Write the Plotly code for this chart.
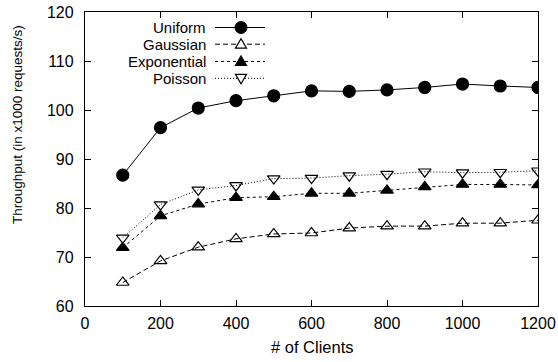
import plotly.graph_objects as go

clients = [100, 200, 300, 400, 500, 600, 700, 800, 900, 1000, 1100, 1200]
uniform = [86.7, 96.4, 100.4, 101.9, 102.9, 103.9, 103.8, 104.1, 104.6, 105.3, 104.9, 104.6]
gaussian = [64.8, 69.2, 72.0, 73.7, 74.7, 74.9, 75.9, 76.3, 76.3, 76.9, 76.9, 77.5]
exponential = [71.9, 78.4, 80.8, 82.1, 82.3, 83.0, 83.0, 83.6, 84.3, 84.8, 84.8, 84.7]
poisson = [73.9, 80.7, 83.7, 84.6, 86.0, 86.1, 86.6, 86.9, 87.4, 87.2, 87.3, 87.6]

series_names = ["Uniform", "Gaussian", "Exponential", "Poisson"]
series_vals = [uniform, gaussian, exponential, poisson]
dashes = ["solid", "5px,3px", "3px,3px", "1px,2px"]
symbols = ["circle", "triangle-up-open", "triangle-up", "triangle-down-open"]
msizes = [12, 11, 11, 11]

W, H = 558, 362
L, R, T, B = 85, 20, 12, 56
PW, PH = W - L - R, H - T - B

fig = go.Figure()
for name, vals, d, s, ms in zip(series_names, series_vals, dashes, symbols, msizes):
    fig.add_trace(go.Scatter(
        x=clients, y=vals, name=name, mode="lines+markers",
        line=dict(color="black", width=1, dash=d),
        marker=dict(symbol=s, size=ms, color="black", line=dict(color="black", width=1.2)),
        showlegend=False,
    ))

# custom legend (text right-aligned, sample on the right), gnuplot style
def px2paper(px, py):
    return (px - L) / PW, (H - B - py) / PH

shapes = []
annotations = []
row_y = [27.5, 44.2, 61.5, 78.3]
for i, (name, d) in enumerate(zip(series_names, dashes)):
    py = row_y[i]
    tx, ty = px2paper(207, py)
    annotations.append(dict(x=tx, y=ty, xref="paper", yref="paper", text=name,
                            showarrow=False, xanchor="right", yanchor="middle",
                            borderpad=0,
                            font=dict(size=15, color="black")))
    x0, y0 = px2paper(215, py)
    x1, _ = px2paper(265, py)
    shapes.append(dict(type="line", xref="paper", yref="paper", x0=x0, x1=x1, y0=y0, y1=y0,
                       line=dict(color="black", width=1, dash=d)))
    cx, cy = px2paper(241, py)
    if i == 0:
        shapes.append(dict(type="circle", xref="paper", yref="paper", xsizemode="pixel", ysizemode="pixel",
                           xanchor=cx, yanchor=cy, x0=-6, x1=6, y0=-6, y1=6,
                           fillcolor="black", line=dict(color="black", width=1)))
    else:
        if i == 3:
            path = "M -5.5 4 L 5.5 4 L 0 -5.5 Z"
        else:
            path = "M -5.5 -4 L 5.5 -4 L 0 5.5 Z"
        fill = "black" if i == 2 else "white"
        shapes.append(dict(type="path", xref="paper", yref="paper", xsizemode="pixel", ysizemode="pixel",
                           xanchor=cx, yanchor=cy, path=path,
                           fillcolor=fill, line=dict(color="black", width=1.2)))

# axis titles placed like the original (gnuplot centres the y title higher)
yt_x, yt_y = px2paper(17, 125)
annotations.append(dict(x=yt_x, y=yt_y, xref="paper", yref="paper",
                        text="Throughput (in x1000 requests/s)", textangle=-90,
                        showarrow=False, xanchor="center", yanchor="middle",
                        font=dict(size=13.5, color="black")))
xt_x, xt_y = px2paper(312, 347)
annotations.append(dict(x=xt_x, y=xt_y, xref="paper", yref="paper",
                        text="# of Clients",
                        showarrow=False, xanchor="center", yanchor="middle",
                        font=dict(size=16.5, color="black")))

axis_common = dict(showline=True, linecolor="black", linewidth=1.3, mirror="allticks",
                   ticks="inside", ticklen=6, tickcolor="black", tickwidth=1,
                   showgrid=False, zeroline=False, automargin=False,
                   tickfont=dict(size=16, color="black"))

fig.update_layout(
    width=W, height=H,
    margin=dict(l=L, r=R, t=T, b=B),
    plot_bgcolor="white", paper_bgcolor="white",
    font=dict(family="Liberation Sans, Arial, sans-serif", color="black"),
    shapes=shapes, annotations=annotations,
    xaxis=dict(range=[0, 1200], dtick=200, tick0=0, ticklabelstandoff=3, **axis_common),
    yaxis=dict(range=[60, 120], dtick=10, tick0=60, ticklabelstandoff=7, **axis_common),
)

fig.write_html("out.html")
